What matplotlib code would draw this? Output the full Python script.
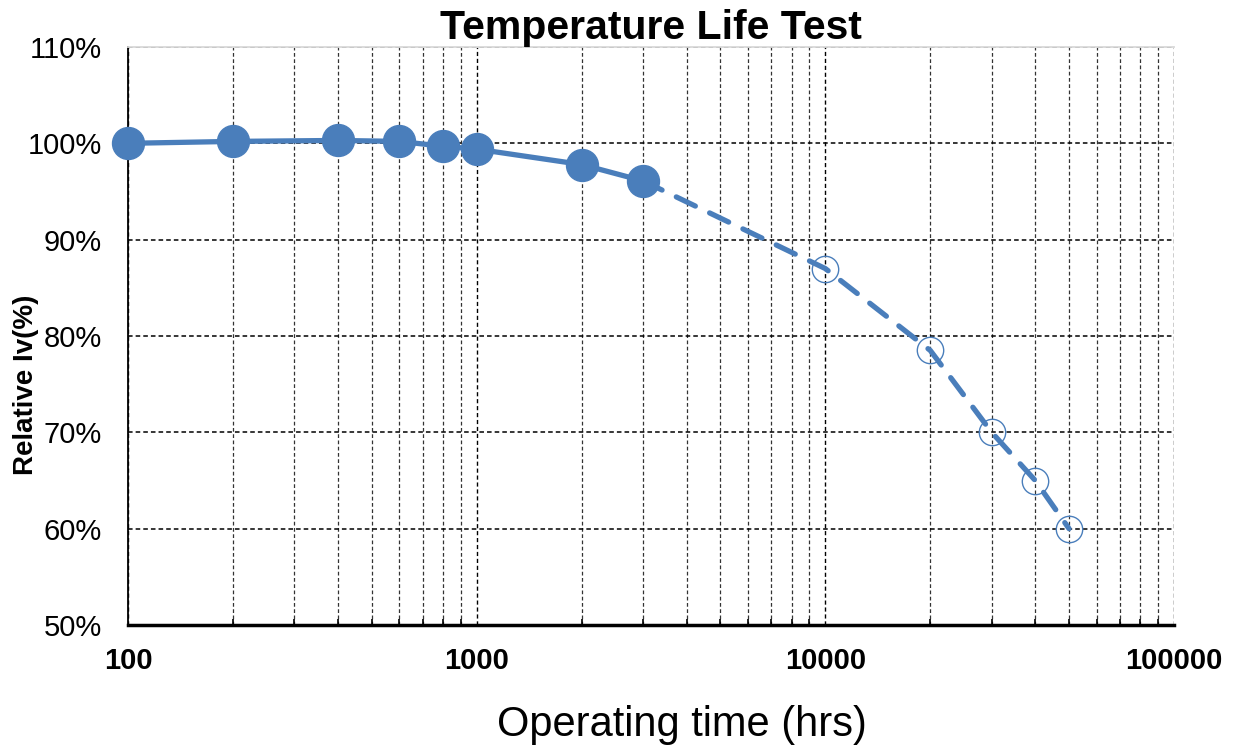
import matplotlib
matplotlib.use("Agg")
import matplotlib.pyplot as plt
from matplotlib.ticker import LogLocator, FixedLocator, FuncFormatter, NullFormatter

# Data
meas_hours = [100, 200, 400, 600, 800, 1000, 2000, 3000]
meas_values = [100.0, 100.2, 100.3, 100.2, 99.7, 99.4, 97.8, 96.1]
proj_hours = [3000, 10000, 20000, 30000, 40000, 50000]
proj_values = [96.1, 87.0, 78.5, 70.0, 65.0, 60.0]
y_ticks = [50, 60, 70, 80, 90, 100, 110]
x_ticks = [100, 1000, 10000, 100000]

title = "Temperature Life Test"
xlabel = "Operating time (hrs)"
ylabel = "Relative Iv(%)"

blue = "#4a7ebb"
plt.rcParams['font.family'] = ['Liberation Sans', 'DejaVu Sans']

fig = plt.figure(figsize=(12.35, 7.51), dpi=100)
ax = fig.add_axes([128/1235, 1-625/751, (1174-128)/1235, (625-47)/751])

ax.set_xscale('log')
ax.set_xlim(100, 100000)
ax.set_ylim(50, 110)

# grid
ax.xaxis.set_major_locator(FixedLocator(x_ticks))
ax.xaxis.set_minor_locator(LogLocator(base=10, subs=range(2, 10)))
ax.xaxis.set_minor_formatter(NullFormatter())
ax.xaxis.set_major_formatter(FuncFormatter(lambda v, p: f"{int(round(v))}"))
ax.yaxis.set_major_locator(FixedLocator(y_ticks))
ax.yaxis.set_major_formatter(FuncFormatter(lambda v, p: f"{int(round(v))}%"))

ax.grid(True, which='major', axis='y', color='black', linestyle=(0, (3, 2)), linewidth=1.1)
ax.grid(True, which='major', axis='x', color='black', linestyle=(0, (3, 2)), linewidth=1.0)
ax.grid(True, which='minor', axis='x', color='#333333', linestyle=(0, (3, 2)), linewidth=0.9)
ax.set_axisbelow(True)

# data lines
ax.plot(meas_hours, meas_values, color=blue, linewidth=3.8, marker='o',
        markersize=23, markerfacecolor=blue, markeredgecolor=blue,
        solid_capstyle='round', zorder=3, clip_on=False)
ax.plot(proj_hours, proj_values, color=blue, linewidth=3.8,
        linestyle=(0, (4, 3)), dash_capstyle='round', zorder=3)
ax.plot(proj_hours[1:], proj_values[1:], linestyle='none', marker='o',
        markersize=19, markerfacecolor='none', markeredgecolor=blue,
        markeredgewidth=1.0, zorder=4)

# spines
ax.spines['left'].set_color('black')
ax.spines['left'].set_linewidth(1.3)
ax.spines['bottom'].set_color('black')
ax.spines['bottom'].set_linewidth(2.5)
ax.spines['top'].set_color('#d9d9d9')
ax.spines['top'].set_linewidth(1.3)
ax.spines['right'].set_visible(False)

ax.tick_params(axis='x', which='major', length=0, pad=16, labelsize=21)
ax.tick_params(axis='x', which='minor', length=4, direction='in', width=1.2)
ax.tick_params(axis='y', which='major', length=0, pad=19, labelsize=21)
for lab in ax.get_xticklabels():
    lab.set_fontweight('bold')

ax.set_title(title, fontsize=29.5, fontweight='bold', pad=6)
fig.text(682/1235, 1-725/751, xlabel, fontsize=30, ha='center', va='center')
fig.text(26/1235, 1-385/751, ylabel, fontsize=20, fontweight='bold',
         rotation=90, ha='center', va='center')

fig.savefig("out.png", dpi=100)
